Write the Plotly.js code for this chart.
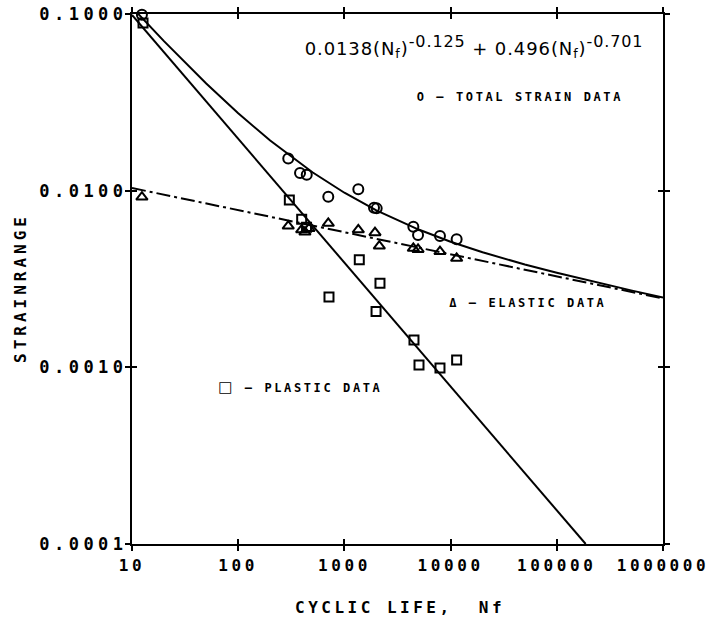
<!DOCTYPE html>
<html>
<head>
<meta charset="utf-8">
<script src="https://cdn.plot.ly/plotly-3.0.1.min.js"></script>
<style>
html,body{margin:0;padding:0;background:#fff;}
#chart{width:710px;height:622px;}
.xtick text{letter-spacing:3.6px;}
.ytick text{letter-spacing:4.5px;}
</style>
</head>
<body>
<div id="chart"></div>
<script>
// ---- data ----
const totalN   = [12.4, 296, 382, 442, 705, 1352, 1900, 2014, 4458, 4936, 7943, 11400];
const totalEps = [0.099, 0.0152, 0.0126, 0.0123, 0.00925, 0.0102, 0.0080, 0.00794, 0.00625, 0.00561, 0.00554, 0.00531];

const elasticN   = [12.4, 296, 396, 425, 464, 705, 1352, 1941, 2132, 4458, 4936, 7943, 11400];
const elasticEps = [0.0092, 0.0063, 0.0060, 0.00583, 0.0061, 0.00653, 0.0060, 0.00578, 0.00486, 0.00472, 0.00465, 0.00452, 0.00414];

const plasticN   = [12.7, 303, 396, 440, 716, 1381, 2163, 1986, 4520, 5040, 7943, 11400];
const plasticEps = [0.0889, 0.00886, 0.00689, 0.0062, 0.0025, 0.00406, 0.00299, 0.00207, 0.00143, 0.00103, 0.00099, 0.0011];

const curveN     = [10, 20, 50, 100, 200, 500, 1000, 2000, 5000, 10000, 20000, 50000, 100000, 200000, 500000, 1000000];
const curveTotal = [0.1091, 0.07023, 0.04042, 0.02742, 0.01921, 0.01271, 0.009732, 0.007743, 0.006024, 0.005143, 0.004481, 0.003820, 0.003428, 0.003096, 0.002726, 0.002485];
const elasticLineN   = [10, 1000000];
const elasticLineEps = [0.01035, 0.002454];
const plasticLineN   = [10, 187000];
const plasticLineEps = [0.09874, 0.0001];

const xTickVals = [10, 100, 1000, 10000, 100000, 1000000];
const xTickText = ['10', '100', '1000', '10000', '100000', '1000000'];
const yTickVals = [0.0001, 0.001, 0.01, 0.1];
const yTickText = ['0.0001', '0.0010', '0.0100', '0.1000'];

const titleX = 'CYCLIC LIFE,  Nf';
const titleY = 'STRAINRANGE';
const equation = '0.0138(N<sub>f</sub>)<sup><span style="font-size:16px">-0.125</span></sup> + 0.496(N<sub>f</sub>)<sup><span style="font-size:16px">-0.701</span></sup>';
const labelTotal = 'O – TOTAL STRAIN DATA';
const labelElastic = 'Δ – ELASTIC DATA';
const labelPlastic = '<span style="font-family:DejaVu Sans;font-size:15px">□</span> – PLASTIC DATA';

// ---- layout geometry ----
const W = 710, H = 622, L = 132, R = 47, T = 14, B = 78;
const pw = W - L - R, ph = H - T - B;
const px = v => (v - L) / pw;
const py = v => (H - B - v) / ph;

const mk = {color: '#000', line: {color: '#000', width: 2}};
const traces = [
  {x: curveN, y: curveTotal, mode: 'lines', line: {color: '#000', width: 2}, hoverinfo: 'skip'},
  {x: elasticLineN, y: elasticLineEps, mode: 'lines', line: {color: '#000', width: 2, dash: '14px,4px,3px,4px'}, hoverinfo: 'skip'},
  {x: plasticLineN, y: plasticLineEps, mode: 'lines', line: {color: '#000', width: 2}, hoverinfo: 'skip'},
  {x: totalN, y: totalEps, mode: 'markers', cliponaxis: false, marker: Object.assign({symbol: 'circle-open', size: 10}, mk)},
  {x: elasticN, y: elasticEps, mode: 'markers', cliponaxis: false, marker: Object.assign({symbol: 'triangle-up-open', size: 10}, mk)},
  {x: plasticN, y: plasticEps, mode: 'markers', cliponaxis: false, marker: Object.assign({symbol: 'square-open', size: 9}, mk)},
  {x: [100], y: [0.01], xaxis: 'x2', yaxis: 'y2', mode: 'markers', marker: {opacity: 0}, hoverinfo: 'skip'}
];

const axBase = {
  type: 'log', showgrid: false, zeroline: false, showline: true, linecolor: '#000', linewidth: 2,
  mirror: 'ticks', ticks: 'outside', ticklen: 5, tickwidth: 2, tickcolor: '#000', ticklabeloverflow: 'allow'
};

const layout = {
  width: W, height: H, showlegend: false,
  paper_bgcolor: '#fff', plot_bgcolor: '#fff',
  margin: {l: L, r: R, t: T, b: B, pad: 0},
  xaxis: Object.assign({}, axBase, {range: [1, 6], tickvals: xTickVals, ticktext: xTickText,
    tickfont: {family: 'DejaVu Sans Mono', size: 16, color: '#000', weight: 'bold'}, ticklabelstandoff: 1}),
  yaxis: Object.assign({}, axBase, {range: [-4, -1], tickvals: yTickVals, ticktext: yTickText,
    tickfont: {family: 'DejaVu Sans Mono', size: 17, color: '#000', weight: 'bold'}, ticklabelstandoff: -6}),
  xaxis2: Object.assign({}, axBase, {overlaying: 'x', anchor: 'y2', range: [1, 6], tickvals: xTickVals, ticks: 'inside', showticklabels: false, showline: false}),
  yaxis2: Object.assign({}, axBase, {overlaying: 'y', anchor: 'x2', range: [-4, -1], tickvals: yTickVals, ticks: 'inside', showticklabels: false, showline: false}),
  annotations: [
    {xref: 'paper', yref: 'paper', x: px(400), y: py(607), text: titleX, showarrow: false,
     font: {family: 'DejaVu Sans Mono', size: 16, color: '#000', weight: 'bold'}, xanchor: 'center', yanchor: 'middle'},
    {xref: 'paper', yref: 'paper', x: px(20), y: py(288), text: titleY, showarrow: false, textangle: -90,
     font: {family: 'DejaVu Sans Mono', size: 16, color: '#000', weight: 'bold'}, xanchor: 'center', yanchor: 'middle'},
    {xref: 'paper', yref: 'paper', x: px(474), y: py(47), text: equation, showarrow: false,
     font: {family: 'DejaVu Sans', size: 18, color: '#000'}, xanchor: 'center', yanchor: 'middle'},
    {xref: 'paper', yref: 'paper', x: px(520), y: py(97), text: labelTotal, showarrow: false,
     font: {family: 'DejaVu Sans Mono', size: 12, color: '#000', weight: 'bold'}, xanchor: 'center', yanchor: 'middle'},
    {xref: 'paper', yref: 'paper', x: px(528), y: py(303), text: labelElastic, showarrow: false,
     font: {family: 'DejaVu Sans Mono', size: 12, color: '#000', weight: 'bold'}, xanchor: 'center', yanchor: 'middle'},
    {xref: 'paper', yref: 'paper', x: px(300), y: py(387), text: labelPlastic, showarrow: false,
     font: {family: 'DejaVu Sans Mono', size: 12, color: '#000', weight: 'bold'}, xanchor: 'center', yanchor: 'middle'}
  ]
};

const spacing = [3.5, 4, 0.9, 2.6, 2.6, 2.6];
Plotly.newPlot('chart', traces, layout, {staticPlot: true, displayModeBar: false}).then(gd => {
  const texts = gd.querySelectorAll('.annotation-text');
  texts.forEach((t, i) => { if (spacing[i]) t.style.letterSpacing = spacing[i] + 'px'; });
});
</script>
</body>
</html>
